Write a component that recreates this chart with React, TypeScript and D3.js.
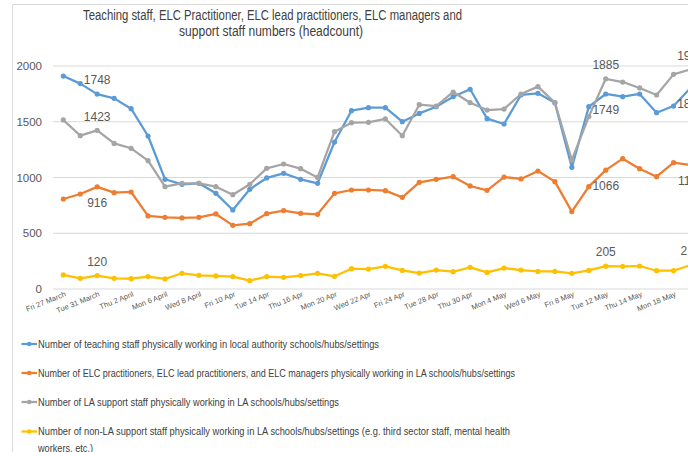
import * as d3 from 'd3';

// category days (labels shown on every second day)
const dates = [
  'Fri 27 March', 'Mon 30 March', 'Tue 31 March', 'Wed 1 April', 'Thu 2 April', 'Fri 3 April',
  'Mon 6 April', 'Tue 7 April', 'Wed 8 April', 'Thu 9 April', 'Fri 10 Apr', 'Mon 13 Apr',
  'Tue 14 Apr', 'Wed 15 Apr', 'Thu 16 Apr', 'Fri 17 Apr', 'Mon 20 Apr', 'Tue 21 Apr',
  'Wed 22 Apr', 'Thu 23 Apr', 'Fri 24 Apr', 'Mon 27 Apr', 'Tue 28 Apr', 'Wed 29 Apr',
  'Thu 30 Apr', 'Fri 1 May', 'Mon 4 May', 'Tue 5 May', 'Wed 6 May', 'Thu 7 May',
  'Fri 8 May', 'Mon 11 May', 'Tue 12 May', 'Wed 13 May', 'Thu 14 May', 'Fri 15 May',
  'Mon 18 May', 'Tue 19 May',
];

const teaching = [
  1910, 1842, 1748, 1710, 1617, 1372, 984, 939, 948, 858, 709, 894, 996, 1037, 984, 948,
  1318, 1599, 1626, 1626, 1501, 1575, 1635, 1725, 1791, 1528, 1480, 1740, 1755, 1671,
  1091, 1635, 1749, 1725, 1749, 1581, 1641, 1803,
];

const elc = [
  807, 852, 916, 864, 870, 655, 643, 637, 643, 673, 571, 586, 676, 703, 679, 670, 858, 888,
  888, 882, 822, 957, 984, 1007, 924, 885, 1004, 987, 1058, 963, 694, 918, 1066, 1169, 1079,
  1007, 1133, 1112,
];

const laSupport = [
  1516, 1375, 1423, 1306, 1262, 1151, 918, 948, 948, 918, 846, 939, 1082, 1121, 1079, 1001,
  1411, 1492, 1495, 1525, 1375, 1653, 1641, 1767, 1671, 1605, 1614, 1749, 1815, 1671, 1157,
  1546, 1885, 1856, 1803, 1740, 1925, 1970,
];

const nonLaSupport = [
  126, 96, 120, 96, 93, 111, 90, 141, 123, 117, 111, 75, 111, 105, 120, 141, 114, 182, 179,
  203, 167, 143, 170, 155, 194, 149, 188, 170, 158, 158, 141, 167, 205, 203, 206, 164, 164, 215,
];

const yTicks = [0, 500, 1000, 1500, 2000];
const labelledDays = [2, 32, 37];

const series = [
  {
    name: 'Number of teaching staff physically working in local authority schools/hubs/settings',
    values: teaching, color: '#5B9BD5', below: [false, true, true], legendW: 341,
  },
  {
    name: 'Number of ELC practitioners, ELC lead practitioners, and ELC managers physically working in LA schools/hubs/settings',
    values: elc, color: '#ED7D31', below: [true, true, true], legendW: 477,
  },
  {
    name: 'Number of LA support staff physically working in LA schools/hubs/settings',
    values: laSupport, color: '#A5A5A5', below: [false, false, false], legendW: 301,
  },
  {
    name: 'Number of non-LA support staff physically working in LA schools/hubs/settings (e.g. third sector staff, mental health',
    values: nonLaSupport, color: '#FFC000', below: [false, false, false], legendW: 472,
  },
];

const W = 688;
const H = 452;
const font = 'Liberation Sans, Arial, sans-serif';

export default function App() {
  const x = d3.scalePoint<string>().domain(dates).range([63.3, 690.5]);
  const y = d3.scaleLinear().domain([0, 2000]).range([289, 66]);

  const line = d3
    .line<number>()
    .x((_, i) => x(dates[i]) as number)
    .y((d) => y(d));

  const legendY = [344, 373, 402, 431.5];

  return (
    <svg
      width={W}
      height={H}
      style={{ position: 'absolute', left: 0, top: 0, overflow: 'hidden', background: '#fff' }}
      fontFamily={font}
    >
      {/* chart frame */}
      <line x1={12.5} x2={W} y1={4.5} y2={4.5} stroke="#d9d9d9" />
      <line x1={12.5} x2={12.5} y1={4.5} y2={H} stroke="#d9d9d9" />

      {/* title */}
      <text x={272.5} y={20} textAnchor="middle" fontSize={14} fill="#404040" textLength={379} lengthAdjust="spacingAndGlyphs">
        Teaching staff, ELC Practitioner, ELC lead practitioners, ELC managers and
      </text>
      <text x={271} y={35.5} textAnchor="middle" fontSize={14} fill="#404040" textLength={184} lengthAdjust="spacingAndGlyphs">
        support staff numbers (headcount)
      </text>

      {/* gridlines + y axis labels */}
      {yTicks.map((t) => (
        <g key={t}>
          <line x1={53} x2={W} y1={y(t)} y2={y(t)} stroke="#d9d9d9" strokeWidth={1} />
          <text x={42} y={y(t)} dy="0.35em" textAnchor="end" fontSize={11.5} fill="#595959">
            {t}
          </text>
        </g>
      ))}

      {/* x axis labels */}
      {dates.map((d, i) =>
        i % 2 === 0 ? (
          <text
            key={d}
            transform={`translate(${(x(d) as number) + 3},${296}) rotate(-22)`}
            textAnchor="end"
            fontSize={7.5}
            fill="#595959"
          >
            {d}
          </text>
        ) : null
      )}

      {/* lines and markers */}
      {series.map((s) => (
        <g key={s.name}>
          <path d={line(s.values) ?? ''} fill="none" stroke={s.color} strokeWidth={2.25} strokeLinejoin="round" />
          {s.values.map((v, i) => (
            <circle key={i} cx={x(dates[i])} cy={y(v)} r={2.6} fill={s.color} />
          ))}
        </g>
      ))}

      {/* data labels */}
      {series.map((s) =>
        labelledDays.map((idx, k) => (
          <text
            key={s.name + idx}
            x={x(dates[idx])}
            y={y(s.values[idx]) + (s.below[k] ? 16 : -14)}
            dy="0.35em"
            textAnchor="middle"
            fontSize={12}
            fill="#595959"
          >
            {s.values[idx]}
          </text>
        ))
      )}

      {/* legend */}
      {series.map((s, i) => (
        <g key={'lg' + s.name}>
          <line x1={21.5} x2={37} y1={legendY[i]} y2={legendY[i]} stroke={s.color} strokeWidth={2.25} />
          <circle cx={29.2} cy={legendY[i]} r={2.3} fill={s.color} />
          <text x={38} y={legendY[i]} dy="0.35em" fontSize={10.5} fill="#404040" textLength={s.legendW} lengthAdjust="spacingAndGlyphs">
            {s.name}
          </text>
        </g>
      ))}
      <text x={38} y={448} dy="0.35em" fontSize={10.5} fill="#404040" textLength={55} lengthAdjust="spacingAndGlyphs">
        workers, etc.)
      </text>
    </svg>
  );
}
